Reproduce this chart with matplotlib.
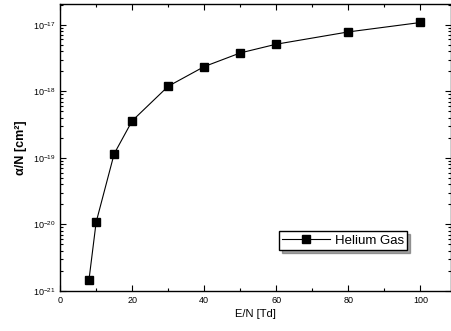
import matplotlib
matplotlib.use("Agg")
import matplotlib.pyplot as plt
from matplotlib.ticker import LogLocator, MultipleLocator

plt.rcParams["font.family"] = ["Liberation Sans", "DejaVu Sans"]
plt.rcParams["mathtext.fontset"] = "custom"
plt.rcParams["mathtext.rm"] = "Liberation Sans"

# E/N [Td] and alpha/N [cm^2]
en = [8, 10, 15, 20, 30, 40, 50, 60, 80, 100]
alpha_n = [1.46e-21, 1.08e-20, 1.15e-19, 3.6e-19, 1.19e-18,
           2.35e-18, 3.77e-18, 5.1e-18, 7.8e-18, 1.08e-17]
x_ticks = [0, 20, 40, 60, 80, 100]
y_ticks = [1e-21, 1e-20, 1e-19, 1e-18, 1e-17]

fig = plt.figure(figsize=(4.52, 3.31), dpi=100)
ax = fig.add_axes([0.133, 0.121, 0.865, 0.867])

ax.plot(en, alpha_n, color="black", lw=0.8, marker="s", ms=5.5,
        label="Helium Gas")
ax.set_yscale("log")
ax.set_xlim(0, 108.5)
ax.set_ylim(1e-21, 2.05e-17)
ax.set_xticks(x_ticks)
ax.xaxis.set_minor_locator(MultipleLocator(10))
ax.set_yticks(y_ticks)
ax.set_yticklabels([r"10$^{%d}$" % round(__import__("math").log10(v)) for v in y_ticks])
ax.yaxis.set_minor_locator(LogLocator(base=10, subs=range(2, 10), numticks=20))

ax.tick_params(which="both", direction="in", top=True, right=True,
               labelsize=6.5, width=0.8)
ax.tick_params(which="major", length=4)
ax.tick_params(which="minor", length=2)
for s in ax.spines.values():
    s.set_linewidth(1.0)

ax.set_xlabel("E/N [Td]", fontsize=8, labelpad=3)
ax.set_ylabel("α/N [cm²]", fontsize=9, fontweight="bold", labelpad=4)

ax.legend(loc="lower right", bbox_to_anchor=(0.888, 0.143), fontsize=9.5,
          frameon=True, fancybox=False, shadow=True, edgecolor="black",
          handlelength=3.6, borderpad=0.25, handletextpad=0.4,
          borderaxespad=0)

fig.savefig("out.png", dpi=100)
